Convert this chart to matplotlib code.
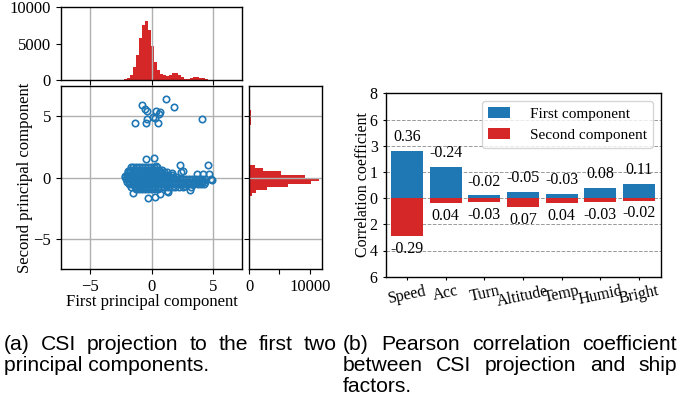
import numpy as np
import matplotlib
matplotlib.use("Agg")
import matplotlib.pyplot as plt

plt.rcParams['font.family'] = 'serif'
plt.rcParams['font.serif'] = ['Liberation Serif', 'DejaVu Serif']

W, H = 693, 409

# ---- scatter data ----
# dense cluster, one list of x values per y level
cluster_rows_y = [0.85, 0.65, 0.45, 0.25, 0.05, -0.15, -0.35, -0.55, -0.75, -0.95]
cluster_rows_x = [
    [-1.5, -1.25, -1.0, -0.8, -0.55, -0.3, -0.1, 0.15, 0.4],
    [-1.8, -1.55, -1.3, -1.05, -0.85, -0.6, -0.35, -0.15, 0.1, 0.3, 0.55, 0.8],
    [-1.95, -1.75, -1.5, -1.3, -1.05, -0.8, -0.6, -0.4, -0.2, 0.05, 0.25, 0.5, 0.7, 0.95, 1.2],
    [-2.05, -1.85, -1.6, -1.4, -1.15, -0.95, -0.7, -0.5, -0.25, -0.05, 0.2, 0.4, 0.65, 0.9,
     1.1, 1.35, 1.6],
    [-2.15, -1.9, -1.7, -1.45, -1.25, -1.0, -0.8, -0.55, -0.35, -0.1, 0.1, 0.35, 0.55, 0.8,
     1.05, 1.25, 1.5, 1.75, 2.0],
    [-2.1, -1.9, -1.65, -1.45, -1.2, -1.0, -0.75, -0.55, -0.3, -0.1, 0.15, 0.35, 0.6, 0.8,
     1.05, 1.3, 1.5, 1.75, 2.0, 2.25, 2.5, 2.75, 3.0, 3.3, 3.55, 3.8, 4.05, 4.3],
    [-2.0, -1.8, -1.55, -1.35, -1.1, -0.9, -0.65, -0.45, -0.2, 0.0, 0.25, 0.45, 0.7, 0.9,
     1.15, 1.4, 1.6, 1.85, 2.1, 2.35, 2.6, 2.85, 3.1, 3.35, 3.6, 3.85, 4.1, 4.35],
    [-1.85, -1.6, -1.4, -1.15, -0.95, -0.7, -0.5, -0.25, -0.05, 0.2, 0.4, 0.65, 0.9, 1.1,
     1.35, 1.6, 1.85, 2.1, 2.4, 2.65, 2.9, 3.2, 3.45, 3.75, 4.0, 4.25],
    [-1.65, -1.4, -1.2, -0.95, -0.7, -0.5, -0.25, 0.0, 0.25, 0.5, 0.75, 1.0, 1.3, 1.6, 1.9,
     2.2, 2.55],
    [-1.3, -1.05, -0.8, -0.55, -0.3, -0.05, 0.2, 0.5],
]
# scattered points around the cluster and the group near y = 5
outlier_x = [-1.68, -0.49, 0.21, 0.32, 2.32, 2.51, 1.62, 2.38, 4.54, 3.7, 4.14, 4.67, 4.78,
             4.92, 4.19, 3.19, 3.1, 2.7, 1.35, 1.22, 0.67, 0.27, -0.28, -1.49, -2.2, -1.9,
             -0.76, -0.54, -0.41, 0.35, 0.66, 0.62, 0.29, -0.36, 0.49, -0.49, -1.38, 4.06,
             1.16, 1.81, 0.1]
outlier_y = [0.9, 1.5, 1.57, 0.95, 1.0, 0.57, 0.41, 0.49, 1.02, 0.26, 0.3, 0.27, -0.12,
             -0.19, -0.27, -0.73, -1.02, -0.65, -1.14, -1.08, -1.33, -1.58, -1.65, -1.22,
             0.1, 0.55,
             5.93, 5.56, 5.38, 5.38, 5.31, 5.18, 4.83, 4.77, 4.46, 4.41, 4.42, 4.76,
             6.37, 5.76, 4.95]

# ---- marginal histograms ----
pc1_hist_counts = [140, 280, 690, 1790, 3440, 5780, 7570, 8120, 6880, 4680, 2480, 1380,
                   830, 730, 550, 690, 960, 960, 690, 410, 180, 180, 280, 410, 410, 320,
                   230, 90]
pc1_hist_range = (-2.25, 4.57)
pc2_hist_counts = [100, 490, 1150, 2950, 6400, 10160, 11470, 9180, 5250, 2300, 930, 200,
                   90, 70, 60, 40, 0, 0, 0, 0, 0, 0, 0, 0, 300, 250, 330, 280, 330, 0,
                   60, 50, 60, 30]
pc2_hist_range = (-1.75, 6.75)

# ---- correlation bars ----
factors = ['Speed', 'Acc', 'Turn', 'Altitude', 'Temp', 'Humid', 'Bright']
first_corr = [0.36, -0.24, -0.02, -0.05, -0.03, 0.08, 0.11]
second_corr = [-0.29, 0.04, -0.03, 0.07, 0.04, -0.03, -0.02]
corr_tick_vals = [-0.6, -0.4, -0.2, 0.0, 0.2, 0.4, 0.6, 0.8]
corr_tick_labels = ['6', '4', '2', '0', '1', '3', '6', '8']

blue = '#1f77b4'
red = '#d62728'


def box(x0, y0, x1, y1):
    # pixel box (top-left origin) -> figure fraction rect
    return [x0 / W, 1 - y1 / H, (x1 - x0) / W, (y1 - y0) / H]


fig = plt.figure(figsize=(W / 100, H / 100), dpi=100)

ax_top = fig.add_axes(box(60.7, 7.3, 242.3, 80))
ax_sc = fig.add_axes(box(60.7, 86, 242.3, 269.3))
ax_rt = fig.add_axes(box(249, 86, 322, 269.3))
ax_bar = fig.add_axes(box(386, 93.3, 660.7, 276.7))

for a in (ax_top, ax_sc, ax_rt, ax_bar):
    for s in a.spines.values():
        s.set_linewidth(1.0)

# scatter
pc1 = [x for xs in cluster_rows_x for x in xs] + outlier_x
pc2 = [y for y, xs in zip(cluster_rows_y, cluster_rows_x) for _ in xs] + outlier_y
ax_sc.plot(pc1, pc2, 'o', mfc='none', mec=blue, ms=4.6, mew=1.2)
ax_sc.set_xlim(-7.4, 7.35)
ax_sc.set_ylim(-7.45, 7.45)
ax_sc.set_xticks([-5, 0, 5])
ax_sc.set_yticks([-5, 0, 5])
ax_sc.grid(True, color='#b0b0b0', lw=1.0)
ax_sc.tick_params(labelsize=12)
ax_sc.set_xlabel('First principal component', fontsize=12, labelpad=-0.5)
ax_sc.set_ylabel('Second principal component', fontsize=12, labelpad=0.5)

# top histogram
e1 = np.linspace(pc1_hist_range[0], pc1_hist_range[1], len(pc1_hist_counts) + 1)
ax_top.stairs(pc1_hist_counts, e1, fill=True, color=red)
ax_top.set_xlim(ax_sc.get_xlim())
ax_top.set_ylim(0, 10000)
ax_top.set_xticks([-5, 0, 5])
ax_top.set_xticklabels([])
ax_top.set_yticks([0, 5000, 10000])
ax_top.grid(True, axis='x', color='#b0b0b0', lw=1.0)
ax_top.tick_params(labelsize=12)

# right histogram
e2 = np.linspace(pc2_hist_range[0], pc2_hist_range[1], len(pc2_hist_counts) + 1)
ax_rt.stairs(pc2_hist_counts, e2, fill=True, color=red, orientation='horizontal')
ax_rt.set_ylim(ax_sc.get_ylim())
ax_rt.set_xlim(0, 12000)
ax_rt.set_yticks([-5, 0, 5])
ax_rt.set_yticklabels([])
ax_rt.set_xticks([0, 5000, 10000])
ax_rt.set_xticklabels(['0', '', '10000'])
ax_rt.grid(True, axis='y', color='#b0b0b0', lw=1.0)
ax_rt.tick_params(labelsize=12)

# correlation bars: magnitudes, first up and second down
pos = np.arange(len(factors))
up = np.abs(first_corr)
down = -np.abs(second_corr)
ax_bar.set_axisbelow(True)
ax_bar.bar(pos, up, width=0.83, color=blue, label='First component')
ax_bar.bar(pos, down, width=0.83, color=red, label='Second component')
for p, h, v in zip(pos, up, first_corr):
    ax_bar.annotate('%.2f' % v, (p, h), xytext=(0, 10), textcoords='offset points',
                    ha='center', va='center', fontsize=11.5)
for p, h, v in zip(pos, down, second_corr):
    ax_bar.annotate('%.2f' % v, (p, h), xytext=(0, -9), textcoords='offset points',
                    ha='center', va='center', fontsize=11.5)
ax_bar.set_xlim(-0.55, 6.57)
ax_bar.set_ylim(-0.6, 0.8)
ax_bar.set_yticks(corr_tick_vals)
ax_bar.set_yticklabels(corr_tick_labels)
ax_bar.set_xticks(pos)
ax_bar.set_xticklabels(factors, rotation=12)
ax_bar.tick_params(labelsize=11.5, length=2.5)
ax_bar.tick_params(axis='x', pad=2)
ax_bar.grid(True, axis='y', ls='--', color='#999999', lw=0.7)
ax_bar.set_ylabel('Correlation coefficient', fontsize=11.5, labelpad=-1)
ax_bar.legend(loc='upper right', fontsize=11, handlelength=1.45, handleheight=0.7,
              handletextpad=1.3, borderaxespad=0.5)

# captions
cap_font = dict(family='Liberation Sans', size=15.2)


def justify(words, x0, x1, y):
    r = fig.canvas.get_renderer()
    ts = [fig.text(0, 1 - y / H, w, va='baseline', **cap_font) for w in words]
    ws = [t.get_window_extent(r).width for t in ts]
    gap = (x1 - x0 - sum(ws)) / (len(ts) - 1)
    x = x0
    for t, w in zip(ts, ws):
        t.set_x(x / W)
        x += w + gap


justify('(a) CSI projection to the first two'.split(), 4, 337, 350)
fig.text(4 / W, 1 - 371 / H, 'principal components.', va='baseline', **cap_font)
justify('(b) Pearson correlation coefficient'.split(), 343, 677, 350)
justify('between CSI projection and ship'.split(), 343, 677, 371)
fig.text(343 / W, 1 - 392 / H, 'factors.', va='baseline', **cap_font)

fig.savefig('out.png', dpi=100)
